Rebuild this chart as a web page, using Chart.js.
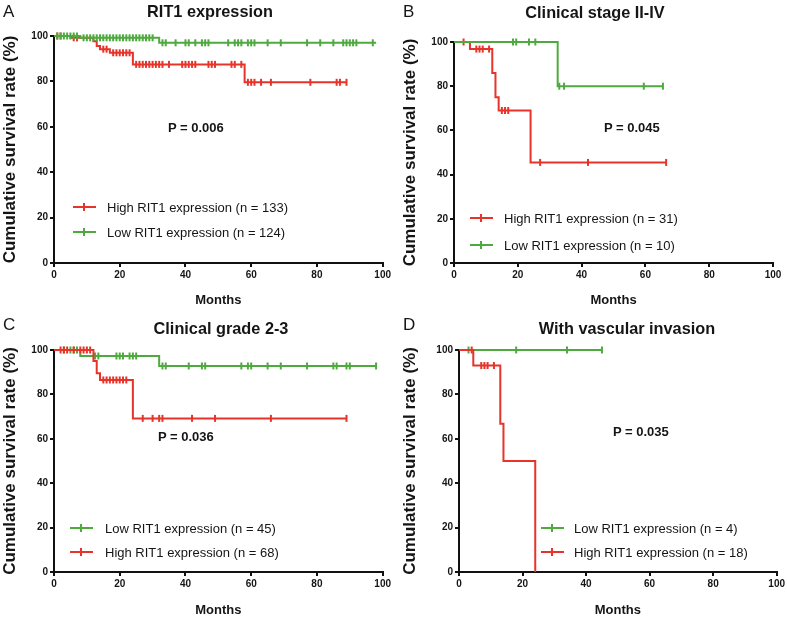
<!DOCTYPE html>
<html>
<head>
<meta charset="utf-8">
<script src="https://cdn.jsdelivr.net/npm/chart.js@4.4.1/dist/chart.umd.min.js"></script>
<style>
body { margin: 0; background: #fff; font-family: 'Liberation Sans', Arial, sans-serif; }
#fig { position: relative; width: 787px; height: 618px; overflow: hidden; }
canvas { position: absolute; }
.lbl { position: absolute; white-space: nowrap; color: #151515; line-height: 1; }
.letter { font-size: 17px; transform: translateY(-50%); }
.title { font-size: 16.3px; font-weight: bold; transform: translate(-50%, -50%); }
.pval { font-size: 13px; font-weight: bold; transform: translateY(-50%); }
.leg { font-size: 13px; transform: translateY(-50%); }
.swatch { position: absolute; height: 2px; width: 23px; }
.swatch i { position: absolute; left: 10px; top: -3px; width: 2px; height: 8px; background: inherit; }
</style>
</head>
<body>
<div id="fig"></div>
<script>
// tick labels shared by both axes
const axisTicks = [0, 20, 40, 60, 80, 100];

const RED = 'rgb(230, 52, 42)';
const GREEN = 'rgb(78, 170, 62)';

// Panel A - RIT1 expression
const aHighEventMonths = [0, 5, 12, 13, 14, 17, 24, 58];
const aHighSurvival = [100, 99.2, 97.7, 95.6, 94.2, 92.6, 87.5, 79.6];
const aHighCensored = [1, 2, 6, 7, 15, 16, 18, 19, 20, 21, 22, 23, 25, 26, 27, 28, 29, 30, 31, 32, 33, 35, 39, 40, 41, 42, 43, 47, 48, 49, 54, 55, 57, 59, 60, 61, 63, 66, 78, 86, 87, 89];
const aHighLastMonth = 89;
const aLowEventMonths = [0, 8, 32];
const aLowSurvival = [100, 99.2, 97.0];
const aLowCensored = [1, 2, 3, 4, 5, 6, 7, 9, 10, 11, 12, 13, 14, 15, 16, 17, 18, 19, 20, 21, 22, 23, 24, 25, 26, 27, 28, 29, 30, 33, 34, 37, 40, 41, 43, 45, 46, 47, 53, 55, 56, 57, 59, 60, 61, 65, 69, 77, 81, 85, 88, 89, 90, 91, 92, 97];
const aLowLastMonth = 98;

// Panel B - Clinical stage II-IV
const bHighEventMonths = [0, 5, 12, 13, 14, 24];
const bHighSurvival = [100, 96.8, 86, 75, 69, 45.5];
const bHighCensored = [3, 7, 8, 9, 11, 15, 16, 17, 27, 42, 66.5];
const bHighLastMonth = 66.5;
const bLowEventMonths = [0, 32.5];
const bLowSurvival = [100, 80];
const bLowCensored = [18.5, 19.5, 23.5, 25.5, 33, 34.5, 59.5, 65.5];
const bLowLastMonth = 65.5;

// Panel C - Clinical grade 2-3
const cLowEventMonths = [0, 8, 32];
const cLowSurvival = [100, 97.3, 92.8];
const cLowCensored = [3, 5, 6, 7, 12.5, 13.5, 19, 20, 21, 23, 24, 25, 33, 34, 41, 45, 46, 57, 59, 60, 65, 69, 77, 85, 86, 89, 90, 98];
const cLowLastMonth = 98;
const cHighEventMonths = [0, 12, 13, 14, 24];
const cHighSurvival = [100, 95, 89.5, 86.5, 69.2];
const cHighCensored = [2, 3, 4, 6, 8, 9, 10, 11, 15, 16, 17, 18, 19, 20, 21, 22, 27, 30, 32, 33, 42, 49, 66, 89];
const cHighLastMonth = 89;

// Panel D - With vascular invasion
const dLowEventMonths = [0];
const dLowSurvival = [100];
const dLowCensored = [3, 18, 34, 45];
const dLowLastMonth = 45;
const dHighEventMonths = [0, 4.5, 13, 14, 24];
const dHighSurvival = [100, 93, 66.8, 50, 0];
const dHighCensored = [4, 7, 8, 9, 11];
const dHighLastMonth = 24;

function kmCurve(events, surv, last) {
    const pts = events.map((t, i) => ({ x: t, y: surv[i] }));
    if (last > events[events.length - 1]) pts.push({ x: last, y: surv[surv.length - 1] });
    return pts;
}

function survAt(events, surv, t) {
    let s = surv[0];
    for (let i = 0; i < events.length; i++) {
        if (events[i] <= t) s = surv[i];
    }
    return s;
}

function group(label, color, events, surv, censored, last) {
    return { label, color, events, surv, censored, last };
}

const panels = [
    {
        letter: 'A', title: 'RIT1 expression', p: 'P = 0.006',
        box: { x: 0, y: 0, w: 393, h: 308 }, plot: { l: 54, r: 383, t: 36, b: 263 },
        titlePos: [210, 11], letterPos: [3, 11], pPos: [168, 127],
        legend: { x: 73, textX: 107, rows: [207, 232] },
        groups: [
            group('High RIT1 expression (n = 133)', RED, aHighEventMonths, aHighSurvival, aHighCensored, aHighLastMonth),
            group('Low RIT1 expression (n = 124)', GREEN, aLowEventMonths, aLowSurvival, aLowCensored, aLowLastMonth)
        ]
    },
    {
        letter: 'B', title: 'Clinical stage II-IV', p: 'P = 0.045',
        box: { x: 400, y: 0, w: 387, h: 308 }, plot: { l: 54, r: 373, t: 42, b: 263 },
        titlePos: [595, 12], letterPos: [403, 11], pPos: [604, 127],
        legend: { x: 470, textX: 504, rows: [218, 245] },
        groups: [
            group('High RIT1 expression (n = 31)', RED, bHighEventMonths, bHighSurvival, bHighCensored, bHighLastMonth),
            group('Low RIT1 expression (n = 10)', GREEN, bLowEventMonths, bLowSurvival, bLowCensored, bLowLastMonth)
        ]
    },
    {
        letter: 'C', title: 'Clinical grade 2-3', p: 'P = 0.036',
        box: { x: 0, y: 308, w: 393, h: 310 }, plot: { l: 54, r: 383, t: 42, b: 264 },
        titlePos: [221, 328], letterPos: [3, 324], pPos: [158, 436],
        legend: { x: 70, textX: 105, rows: [528, 552] },
        groups: [
            group('Low RIT1 expression (n = 45)', GREEN, cLowEventMonths, cLowSurvival, cLowCensored, cLowLastMonth),
            group('High RIT1 expression (n = 68)', RED, cHighEventMonths, cHighSurvival, cHighCensored, cHighLastMonth)
        ]
    },
    {
        letter: 'D', title: 'With vascular invasion', p: 'P = 0.035',
        box: { x: 400, y: 308, w: 387, h: 310 }, plot: { l: 59, r: 377, t: 42, b: 264 },
        titlePos: [627, 328], letterPos: [403, 324], pPos: [613, 431],
        legend: { x: 541, textX: 574, rows: [528, 552] },
        groups: [
            group('Low RIT1 expression (n = 4)', GREEN, dLowEventMonths, dLowSurvival, dLowCensored, dLowLastMonth),
            group('High RIT1 expression (n = 18)', RED, dHighEventMonths, dHighSurvival, dHighCensored, dHighLastMonth)
        ]
    }
];

Chart.defaults.font.family = "'Liberation Sans', Arial, sans-serif";
Chart.defaults.color = '#151515';

const fig = document.getElementById('fig');

function addLabel(cls, text, x, y) {
    const el = document.createElement('div');
    el.className = 'lbl ' + cls;
    el.textContent = text;
    el.style.left = x + 'px';
    el.style.top = y + 'px';
    fig.appendChild(el);
    return el;
}

function axisOptions(titleText, titleSize) {
    return {
        type: 'linear',
        min: axisTicks[0],
        max: axisTicks[axisTicks.length - 1],
        afterBuildTicks: scale => { scale.ticks = axisTicks.map(v => ({ value: v })); },
        ticks: { font: { size: 10, weight: 'bold' }, padding: 2, color: '#151515' },
        grid: { drawOnChartArea: false, color: '#111', lineWidth: 2, tickLength: 4 },
        border: { color: '#111', width: 2 },
        title: { display: true, text: titleText, font: { size: titleSize, weight: 'bold' }, padding: { top: 0, bottom: 0 }, color: '#151515' }
    };
}

panels.forEach(panel => {
    const canvas = document.createElement('canvas');
    canvas.width = panel.box.w;
    canvas.height = panel.box.h;
    canvas.style.left = panel.box.x + 'px';
    canvas.style.top = panel.box.y + 'px';
    fig.appendChild(canvas);

    const datasets = [];
    // draw the second legend entry first so the first one sits on top
    panel.groups.slice().reverse().forEach(g => {
        datasets.push({
            data: kmCurve(g.events, g.surv, g.last),
            showLine: true,
            stepped: true,
            borderColor: g.color,
            borderWidth: 2,
            pointRadius: 0,
            fill: false,
            clip: false
        });
        datasets.push({
            data: g.censored.map(t => ({ x: t, y: survAt(g.events, g.surv, t) })),
            showLine: false,
            pointStyle: 'line',
            rotation: 90,
            pointRadius: 3.5,
            borderColor: g.color,
            borderWidth: 2,
            clip: false
        });
    });

    const xAxis = axisOptions('Months', 13);
    xAxis.afterFit = s => { s.height = panel.box.h - panel.plot.b; };
    const yAxis = axisOptions('Cumulative survival rate (%)', 17);
    yAxis.afterFit = s => { s.width = panel.plot.l; };

    new Chart(canvas, {
        type: 'scatter',
        data: { datasets },
        options: {
            responsive: false,
            animation: false,
            events: [],
            layout: { padding: { left: 0, right: panel.box.w - panel.plot.r, top: panel.plot.t, bottom: 0 } },
            plugins: { legend: { display: false }, tooltip: { enabled: false } },
            scales: { x: xAxis, y: yAxis }
        }
    });

    addLabel('letter', panel.letter, panel.letterPos[0], panel.letterPos[1]);
    addLabel('title', panel.title, panel.titlePos[0], panel.titlePos[1]);
    addLabel('pval', panel.p, panel.pPos[0], panel.pPos[1]);

    panel.groups.forEach((g, i) => {
        const y = panel.legend.rows[i];
        const sw = document.createElement('div');
        sw.className = 'swatch';
        sw.style.background = g.color;
        sw.style.left = panel.legend.x + 'px';
        sw.style.top = (y - 1) + 'px';
        sw.appendChild(document.createElement('i'));
        fig.appendChild(sw);
        addLabel('leg', g.label, panel.legend.textX, y);
    });
});
</script>
</body>
</html>
